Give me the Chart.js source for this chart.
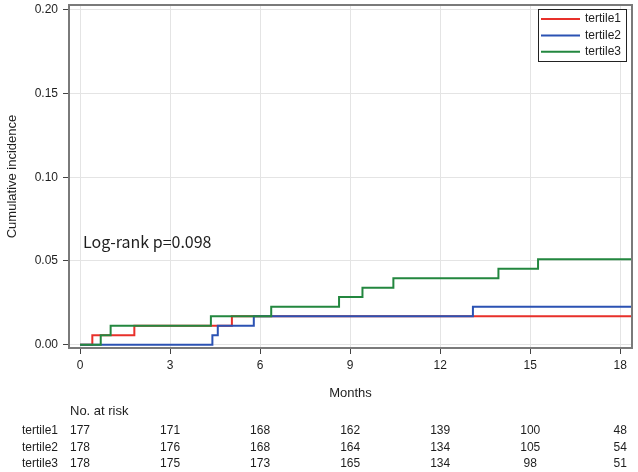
<!DOCTYPE html>
<html>
<head>
<meta charset="utf-8">
<script src="https://cdn.jsdelivr.net/npm/chart.js@4.4.1/dist/chart.umd.min.js"></script>
<style>
  html, body { margin: 0; padding: 0; background: #fff; }
</style>
</head>
<body>
<canvas id="km" width="638" height="472"></canvas>
<script>
const groups = ["tertile1", "tertile2", "tertile3"]
const groupColors = ["#e8302a", "#2b52b3", "#23873f"]

// cumulative incidence steps: month of event, value after the step
const t1Months = [0, 0.41, 1.81, 5.06, 18.4]
const t1Values = [0, 0.0056, 0.0113, 0.0170, 0.0170]
const t2Months = [0, 4.41, 4.59, 5.79, 13.09, 18.4]
const t2Values = [0, 0.0056, 0.0113, 0.0170, 0.0227, 0.0227]
const t3Months = [0, 0.69, 1.02, 4.36, 6.37, 8.63, 9.41, 10.44, 13.94, 15.26, 18.4]
const t3Values = [0, 0.0056, 0.0113, 0.0170, 0.0227, 0.0284, 0.0340, 0.0397, 0.0453, 0.0510, 0.0510]

const xTicks = [0, 3, 6, 9, 12, 15, 18]
const yTicks = [0, 0.05, 0.10, 0.15, 0.20]

const riskMonths = [0, 3, 6, 9, 12, 15, 18]
const atRisk1 = [177, 171, 168, 162, 139, 100, 48]
const atRisk2 = [178, 176, 168, 164, 134, 105, 54]
const atRisk3 = [178, 175, 173, 165, 134, 98, 51]

const pText = "Log-rank p=0.098"

const FONT = "'Liberation Sans', Arial, sans-serif"
const INK = "#1e1e1e"

function toPoints(months, values) {
  return months.map((m, i) => ({ x: m, y: values[i] }))
}

const series = [
  toPoints(t1Months, t1Values),
  toPoints(t2Months, t2Values),
  toPoints(t3Months, t3Values)
]

// frame, legend box, p-value and risk table
const extras = {
  id: "extras",
  afterDraw(chart) {
    const { ctx, chartArea: ca, scales } = chart
    const xs = scales.x
    ctx.save()

    ctx.strokeStyle = "#7a7a7a"
    ctx.lineWidth = 2
    ctx.strokeRect(ca.left, ca.top, ca.right - ca.left, ca.bottom - ca.top)

    // legend
    const bw = 88, bh = 52
    const bx = ca.right - 6 - bw, by = ca.top + 4
    ctx.fillStyle = "#fff"
    ctx.fillRect(bx, by, bw, bh)
    ctx.strokeStyle = "#222"
    ctx.lineWidth = 1
    ctx.strokeRect(bx + 0.5, by + 0.5, bw, bh)
    ctx.font = "12px " + FONT
    ctx.textBaseline = "middle"
    ctx.textAlign = "left"
    groups.forEach((g, i) => {
      const yy = by + 10 + i * 16.4
      ctx.strokeStyle = groupColors[i]
      ctx.lineWidth = 2
      ctx.beginPath()
      ctx.moveTo(bx + 3, yy)
      ctx.lineTo(bx + 42, yy)
      ctx.stroke()
      ctx.fillStyle = INK
      ctx.fillText(g, bx + 47, yy)
    })

    // p-value
    ctx.font = "16px 'Noto Sans CJK JP', 'Noto Sans', sans-serif"
    ctx.textBaseline = "alphabetic"
    ctx.fillStyle = INK
    ctx.fillText(pText, xs.getPixelForValue(0.1), scales.y.getPixelForValue(0.0575))

    // numbers at risk
    ctx.font = "13px " + FONT
    ctx.textBaseline = "middle"
    ctx.fillText("No. at risk", 70, 411)
    const rows = [atRisk1, atRisk2, atRisk3]
    ctx.font = "12px " + FONT
    rows.forEach((row, r) => {
      const yy = 431 + r * 16.3
      ctx.textAlign = "left"
      ctx.fillText(groups[r], 22, yy)
      ctx.textAlign = "center"
      row.forEach((n, i) => {
        ctx.fillText(String(n), xs.getPixelForValue(riskMonths[i]), yy)
      })
    })
    ctx.restore()
  }
}

new Chart(document.getElementById("km"), {
  type: "line",
  data: {
    datasets: series.map((pts, i) => ({
      label: groups[i],
      data: pts,
      borderColor: groupColors[i],
      backgroundColor: groupColors[i],
      borderWidth: 2,
      pointRadius: 0,
      stepped: true,
      fill: false,
      order: groups.length - i
    }))
  },
  options: {
    responsive: false,
    animation: false,
    devicePixelRatio: 1,
    layout: { padding: { top: 5, right: 6, left: 0, bottom: 0 } },
    plugins: { legend: { display: false }, tooltip: { enabled: false } },
    scales: {
      x: {
        type: "linear",
        min: -0.367,
        max: 18.39,
        afterBuildTicks: s => { s.ticks = xTicks.map(v => ({ value: v })) },
        afterFit: s => { s.height = 124; s.paddingLeft = 0; s.paddingRight = 0 },
        ticks: { color: INK, font: { size: 12, family: FONT }, padding: 4, maxRotation: 0, autoSkip: false },
        grid: { color: "#e4e4e4", tickColor: "#444", tickLength: 6 },
        border: { display: false },
        title: { display: true, text: "Months", color: INK, font: { size: 13, family: FONT }, padding: { top: 0, bottom: 71 } }
      },
      y: {
        min: -0.002,
        max: 0.2029,
        afterBuildTicks: s => { s.ticks = yTicks.map(v => ({ value: v })) },
        afterFit: s => { s.width = 69; s.paddingTop = 0; s.paddingBottom = 0 },
        ticks: { color: INK, font: { size: 12, family: FONT }, padding: 5, callback: v => v.toFixed(2) },
        grid: { color: "#e4e4e4", tickColor: "#444", tickLength: 6 },
        border: { display: false },
        title: { display: true, text: "Cumulative incidence", color: INK, font: { size: 13, family: FONT }, padding: { top: 5, bottom: 0 } }
      }
    }
  },
  plugins: [extras]
})
</script>
</body>
</html>
